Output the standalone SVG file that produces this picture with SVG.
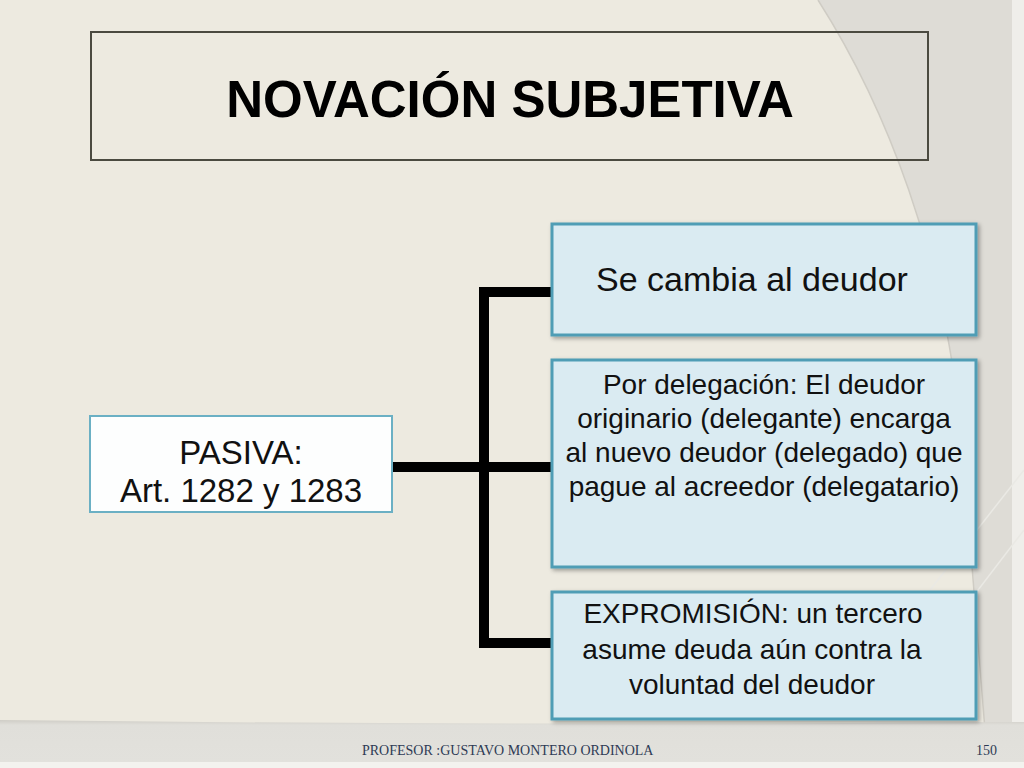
<svg xmlns="http://www.w3.org/2000/svg" width="1024" height="768" viewBox="0 0 1024 768">
  <defs>
    <style>
      .box { fill: #DAEBF2; stroke: #4F9DB5; stroke-width: 3; filter: url(#sh); }
      .txt { font-family: "Liberation Sans", Arial, sans-serif; fill: #111; text-anchor: middle; }
      .conn { stroke: #000; stroke-width: 10; fill: none; stroke-linecap: butt; }
      .foot { font-family: "Liberation Serif", "Times New Roman", serif; font-size: 14px; fill: #2E3B55; }
    </style>
    <filter id="sh" x="-10%" y="-10%" width="125%" height="130%">
      <feDropShadow dx="2" dy="2" stdDeviation="2" flood-color="#000" flood-opacity="0.35"/>
    </filter>
    <linearGradient id="footg" x1="0" y1="0" x2="0" y2="1">
      <stop offset="0" stop-color="#CFCDC6"/>
      <stop offset="0.12" stop-color="#E0DFDA"/>
      <stop offset="1" stop-color="#E2E1DC"/>
    </linearGradient>
  </defs>

  <!-- background -->
  <rect x="0" y="0" width="1024" height="768" fill="#EDEAE0"/>
  <path d="M818,0 C 885,105 945,255 962,440 C 972,560 982,680 988,768 L1024,768 L1024,0 Z" fill="#DEDCD6"/>
  <path d="M818,0 C 885,105 945,255 962,440 C 972,560 982,680 988,768" fill="none" stroke="#CFCCC4" stroke-width="1.5"/>
  <rect x="1012" y="0" width="12" height="768" fill="#EFEEEA"/>
  <path d="M1024,470 L930,590" stroke="#EAE9E4" stroke-width="1.5" fill="none"/>
  <path d="M1024,530 L842,768" stroke="#EAE9E4" stroke-width="1.5" fill="none"/>
  <path d="M0,720 Q 512,726 1024,722 L1024,762 L0,762 Z" fill="url(#footg)"/>
  <rect x="0" y="762" width="1024" height="6" fill="#F3F2EE"/>

  <!-- title -->
  <g id="title">
    <rect x="91" y="32" width="837" height="128" fill="none" stroke="#4B4A40" stroke-width="2"/>
    <text x="510" y="117" font-family="Liberation Sans, Arial, sans-serif" font-weight="bold" font-size="51" fill="#000" text-anchor="middle">NOVACIÓN SUBJETIVA</text>
  </g>

  <!-- connectors -->
  <g id="connectors">
    <path class="conn" d="M392,467 L552,467"/>
    <path class="conn" d="M484,287 L484,648"/>
    <path class="conn" d="M479,292 L552,292"/>
    <path class="conn" d="M479,643 L552,643"/>
  </g>

  <!-- PASIVA -->
  <g id="pasiva">
    <rect x="90" y="416" width="302" height="96" fill="#FDFEFE" stroke="#6BB0C4" stroke-width="2"/>
    <text class="txt" x="241" y="464" font-size="33">PASIVA:</text>
    <text class="txt" x="241" y="502" font-size="33">Art. 1282 y 1283</text>
  </g>

  <!-- box 1 -->
  <g id="cambia">
    <rect class="box" x="552" y="224" width="424" height="111"/>
    <text class="txt" x="752" y="291" font-size="34">Se cambia al deudor</text>
  </g>

  <!-- box 2 -->
  <g id="delegacion">
    <rect class="box" x="552" y="360" width="424" height="207"/>
    <text class="txt" x="764" y="394" font-size="28">Por delegación: El deudor</text>
    <text class="txt" x="764" y="428" font-size="28">originario (delegante) encarga</text>
    <text class="txt" x="764" y="462" font-size="28">al nuevo deudor (delegado) que</text>
    <text class="txt" x="764" y="496" font-size="28">pague al acreedor (delegatario)</text>
  </g>

  <!-- box 3 -->
  <g id="expromision">
    <rect class="box" x="552" y="592" width="424" height="127"/>
    <text class="txt" x="753" y="623" font-size="28">EXPROMISIÓN: un tercero</text>
    <text class="txt" x="752" y="659" font-size="28">asume deuda aún contra la</text>
    <text class="txt" x="752" y="694" font-size="28">voluntad del deudor</text>
  </g>

  <!-- footer -->
  <g id="footer">
    <text class="foot" x="362" y="755">PROFESOR :GUSTAVO MONTERO ORDINOLA</text>
    <text class="foot" x="976" y="755">150</text>
  </g>
</svg>
